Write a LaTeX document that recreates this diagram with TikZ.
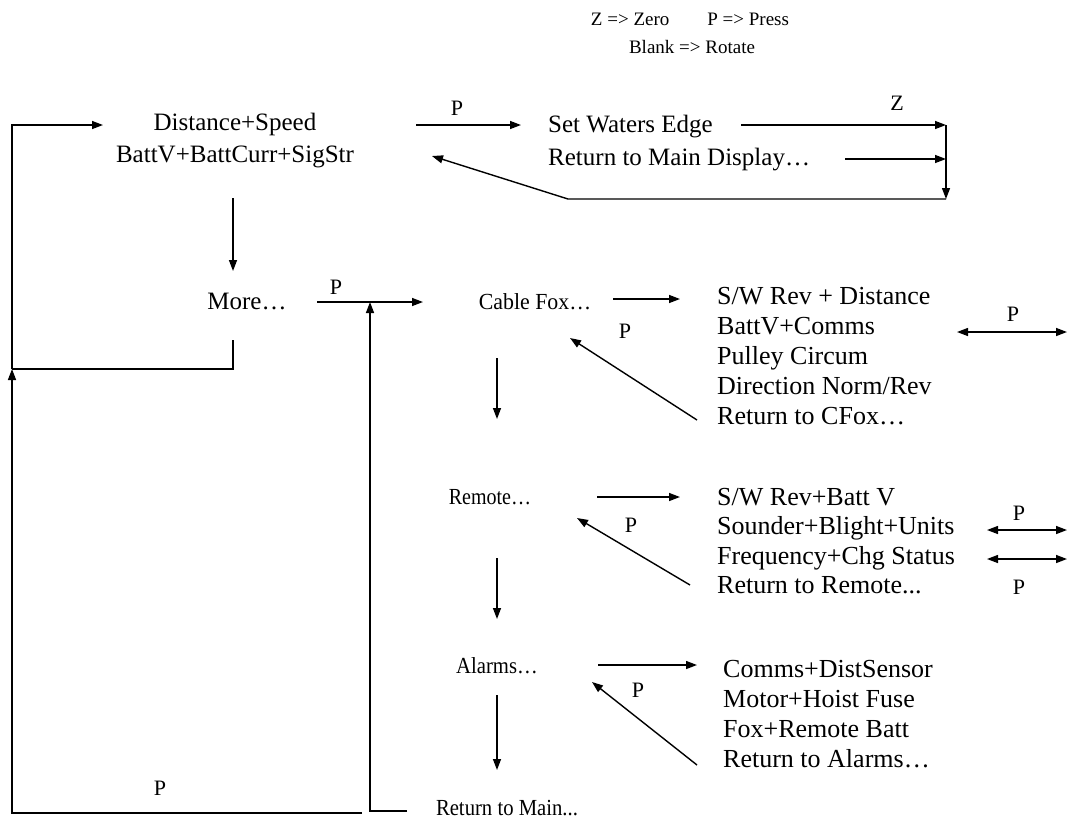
\documentclass[tikz,border=0pt]{standalone}
\usepackage{fontspec}
\setmainfont{Liberation Serif}
\usetikzlibrary{arrows.meta}
\begin{document}
\begin{tikzpicture}[x=1pt,y=-1pt,
  tip/.tip={Triangle[length=11pt,width=8pt]},
  arr/.style={line width=1.4pt,-tip},
  dbl/.style={line width=1.4pt,tip-tip},
  ln/.style={line width=1.4pt},
  big/.style={font=\fontsize{25}{32}\selectfont, inner sep=0pt, align=center},
  lst/.style={font=\fontsize{26}{30}\selectfont, inner sep=0pt, align=left, anchor=west},
  sm/.style={font=\fontsize{23}{28}\selectfont, inner sep=0pt},
  lab/.style={font=\fontsize{22}{26}\selectfont, inner sep=0pt},
  leg/.style={font=\fontsize{19}{22}\selectfont, inner sep=0pt}]
\useasboundingbox (0,0) rectangle (1068,823);
% legend
\node[leg] (leg1) at (690,19) {Z => Zero\hspace{2em}P => Press};
\node[leg] (leg2) at (692,47) {Blank => Rotate};
% texts
\node[big] (main) at (235,141) {Distance+Speed\\BattV+BattCurr+SigStr};
\node[big, anchor=west, align=left, font=\fontsize{25}{33}\selectfont] (swe) at (548,143) {Set Waters Edge\\Return to Main Display…};
\node[big] (more) at (247,301) {More…};
\node[sm] (cfox) at (535,302) {\scalebox{0.95}[1]{Cable Fox…}};
\node[lst] (cfl) at (717,356) {S/W Rev + Distance\\BattV+Comms\\Pulley Circum\\Direction Norm/Rev\\Return to CFox…};
\node[sm] (rem) at (490,497) {\scalebox{0.87}[1]{Remote…}};
\node[lst, font=\fontsize{26}{29.5}\selectfont] (rml) at (717,541) {S/W Rev+Batt V\\Sounder+Blight+Units\\Frequency+Chg Status\\Return to Remote...};
\node[sm] (alm) at (497,666) {\scalebox{0.9}[1]{Alarms…}};
\node[lst] (all) at (723,714) {Comms+DistSensor\\Motor+Hoist Fuse\\Fox+Remote Batt\\Return to Alarms…};
\node[sm] (rtm) at (507,808) {\scalebox{0.9}[1]{Return to Main...}};
% labels
\node[lab] (p1) at (457,108) {P};
\node[lab] (z1) at (897,103) {Z};
\node[lab] (p2) at (336,287) {P};
\node[lab] (p3) at (625,331) {P};
\node[lab] (p4) at (1013,314) {P};
\node[lab] (p5) at (631,525) {P};
\node[lab] (p6) at (1019,513) {P};
\node[lab] (p7) at (1019,587) {P};
\node[lab] (p8) at (638,690) {P};
\node[lab] (p9) at (160,788) {P};
% coordinates
\coordinate (a1) at (416,125); \coordinate (a2) at (521,125);
\coordinate (b1) at (741,125); \coordinate (b2) at (946,125);
\coordinate (c1) at (845,159); \coordinate (c2) at (946,159);
\coordinate (d1) at (946,199); \coordinate (d2) at (568,199); \coordinate (d3) at (432,156);
\coordinate (e1) at (12,125); \coordinate (e2) at (103,125);
\coordinate (f1) at (233,198); \coordinate (f2) at (233,271);
\coordinate (g1) at (233,340); \coordinate (g2) at (233,369); \coordinate (g3) at (12,369);
\coordinate (h1) at (362,813); \coordinate (h2) at (12,813);
\coordinate (i1) at (407,811); \coordinate (i2) at (370,811); \coordinate (i3) at (370,302);
\coordinate (j1) at (317,302); \coordinate (j2) at (423,302);
\coordinate (k1) at (613,299); \coordinate (k2) at (680,299);
\coordinate (l1) at (697,420); \coordinate (l2) at (570,338);
\coordinate (m1) at (957,332); \coordinate (m2) at (1067,332);
\coordinate (n1) at (497,358); \coordinate (n2) at (497,419);
\coordinate (o1) at (597,497); \coordinate (o2) at (680,497);
\coordinate (q1) at (690,585); \coordinate (q2) at (577,518);
\coordinate (r1) at (987,530); \coordinate (r2) at (1067,530);
\coordinate (s1) at (987,559); \coordinate (s2) at (1067,559);
\coordinate (t1) at (497,558); \coordinate (t2) at (497,619);
\coordinate (u1) at (598,665); \coordinate (u2) at (697,665);
\coordinate (v1) at (697,765); \coordinate (v2) at (592,682);
\coordinate (w1) at (497,695); \coordinate (w2) at (497,770);
% connectors
\draw[arr] (a1) -- (a2);
\draw[arr] (b1) -- (b2);
\draw[arr] (c1) -- (c2);
\draw[ln] (b2) -- (c2);
\draw[arr] (c2) -- (d1);
\draw[arr] (d1) -- (d2) -- (d3);
\draw[arr] (g3) -- (e1) -- (e2);
\draw[arr] (f1) -- (f2);
\draw[ln] (g1) -- (g2) -- (g3);
\draw[arr] (h1) -- (h2) -- (g3);
\draw[arr] (i1) -- (i2) -- (i3);
\draw[arr] (j1) -- (j2);
\draw[arr] (k1) -- (k2);
\draw[arr] (l1) -- (l2);
\draw[dbl] (m1) -- (m2);
\draw[arr] (n1) -- (n2);
\draw[arr] (o1) -- (o2);
\draw[arr] (q1) -- (q2);
\draw[dbl] (r1) -- (r2);
\draw[dbl] (s1) -- (s2);
\draw[arr] (t1) -- (t2);
\draw[arr] (u1) -- (u2);
\draw[arr] (v1) -- (v2);
\draw[arr] (w1) -- (w2);
\end{tikzpicture}
\end{document}
